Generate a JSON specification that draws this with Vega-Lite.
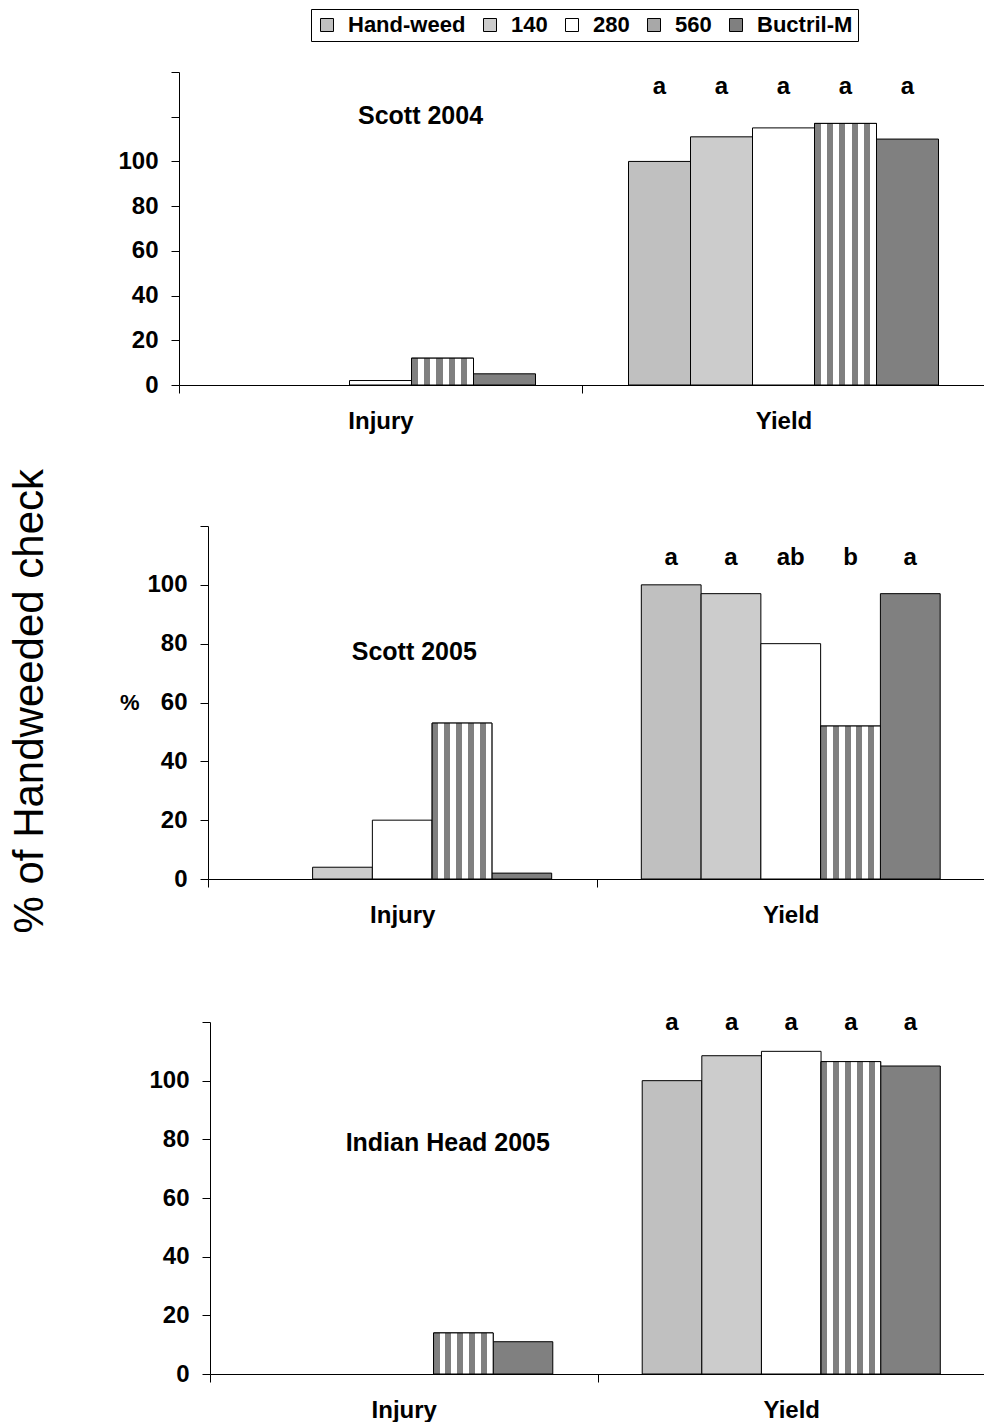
{
  "$schema": "https://vega.github.io/schema/vega-lite/v6.json",
  "background": "white",
  "padding": {"left": 8, "top": 8, "right": 0, "bottom": 0},
  "config": {
    "view": {"stroke": null},
    "font": "Liberation Sans",
    "axis": {"grid": false, "domainColor": "black", "tickColor": "black", "labelColor": "black", "labelFont": "Liberation Sans", "labelFontWeight": "bold", "titleFont": "Liberation Sans", "titleColor": "black", "tickSize": 8, "domainWidth": 1, "tickWidth": 1},
    "legend": {"orient": "none", "legendX": 132, "legendY": -63, "direction": "horizontal", "symbolType": "square", "symbolSize": 169, "symbolStrokeColor": "black", "symbolStrokeWidth": 1, "symbolOpacity": 1, "labelFont": "Liberation Sans", "labelFontWeight": "bold", "labelFontSize": 22, "labelColor": "black", "labelOffset": 10, "columnPadding": 13, "strokeColor": "black", "strokeWidth": 1, "padding": 5, "fillColor": "white"}
  },
  "title": {"text": "% of Handweeded check", "orient": "left", "anchor": "middle", "fontSize": 42, "font": "Liberation Sans", "fontWeight": "normal", "color": "black", "offset": 66, "dx": 14},
  "datasets": {
    "bars": [
      {"site": "Scott 2004", "measure": "Injury", "treatment": "Hand-weed", "value": 0},
      {"site": "Scott 2004", "measure": "Injury", "treatment": "140", "value": 0},
      {"site": "Scott 2004", "measure": "Injury", "treatment": "280", "value": 2},
      {"site": "Scott 2004", "measure": "Injury", "treatment": "560", "value": 12},
      {"site": "Scott 2004", "measure": "Injury", "treatment": "Buctril-M", "value": 5},
      {"site": "Scott 2004", "measure": "Yield", "treatment": "Hand-weed", "value": 100},
      {"site": "Scott 2004", "measure": "Yield", "treatment": "140", "value": 111},
      {"site": "Scott 2004", "measure": "Yield", "treatment": "280", "value": 115},
      {"site": "Scott 2004", "measure": "Yield", "treatment": "560", "value": 117},
      {"site": "Scott 2004", "measure": "Yield", "treatment": "Buctril-M", "value": 110},
      {"site": "Scott 2005", "measure": "Injury", "treatment": "Hand-weed", "value": 0},
      {"site": "Scott 2005", "measure": "Injury", "treatment": "140", "value": 4},
      {"site": "Scott 2005", "measure": "Injury", "treatment": "280", "value": 20},
      {"site": "Scott 2005", "measure": "Injury", "treatment": "560", "value": 53},
      {"site": "Scott 2005", "measure": "Injury", "treatment": "Buctril-M", "value": 2},
      {"site": "Scott 2005", "measure": "Yield", "treatment": "Hand-weed", "value": 100},
      {"site": "Scott 2005", "measure": "Yield", "treatment": "140", "value": 97},
      {"site": "Scott 2005", "measure": "Yield", "treatment": "280", "value": 80},
      {"site": "Scott 2005", "measure": "Yield", "treatment": "560", "value": 52},
      {"site": "Scott 2005", "measure": "Yield", "treatment": "Buctril-M", "value": 97},
      {"site": "Indian Head 2005", "measure": "Injury", "treatment": "Hand-weed", "value": 0},
      {"site": "Indian Head 2005", "measure": "Injury", "treatment": "140", "value": 0},
      {"site": "Indian Head 2005", "measure": "Injury", "treatment": "280", "value": 0},
      {"site": "Indian Head 2005", "measure": "Injury", "treatment": "560", "value": 14},
      {"site": "Indian Head 2005", "measure": "Injury", "treatment": "Buctril-M", "value": 11},
      {"site": "Indian Head 2005", "measure": "Yield", "treatment": "Hand-weed", "value": 100},
      {"site": "Indian Head 2005", "measure": "Yield", "treatment": "140", "value": 108.5},
      {"site": "Indian Head 2005", "measure": "Yield", "treatment": "280", "value": 110},
      {"site": "Indian Head 2005", "measure": "Yield", "treatment": "560", "value": 106.5},
      {"site": "Indian Head 2005", "measure": "Yield", "treatment": "Buctril-M", "value": 105}
    ],
    "letters": [
      {"site": "Scott 2004", "treatment": "Hand-weed", "letter": "a"},
      {"site": "Scott 2004", "treatment": "140", "letter": "a"},
      {"site": "Scott 2004", "treatment": "280", "letter": "a"},
      {"site": "Scott 2004", "treatment": "560", "letter": "a"},
      {"site": "Scott 2004", "treatment": "Buctril-M", "letter": "a"},
      {"site": "Scott 2005", "treatment": "Hand-weed", "letter": "a"},
      {"site": "Scott 2005", "treatment": "140", "letter": "a"},
      {"site": "Scott 2005", "treatment": "280", "letter": "ab"},
      {"site": "Scott 2005", "treatment": "560", "letter": "b"},
      {"site": "Scott 2005", "treatment": "Buctril-M", "letter": "a"},
      {"site": "Indian Head 2005", "treatment": "Hand-weed", "letter": "a"},
      {"site": "Indian Head 2005", "treatment": "140", "letter": "a"},
      {"site": "Indian Head 2005", "treatment": "280", "letter": "a"},
      {"site": "Indian Head 2005", "treatment": "560", "letter": "a"},
      {"site": "Indian Head 2005", "treatment": "Buctril-M", "letter": "a"}
    ]
  },
  "spacing": 92,
  "resolve": {"scale": {"xOffset": "independent"}},
  "vconcat": [
    {
      "width": 806, "height": 313,
      "layer": [
        {
          "data": {"name": "bars"},
          "transform": [{"filter": "datum.site == 'Scott 2004' && datum.value > 0"}],
          "mark": {"type": "bar", "stroke": "black", "strokeWidth": 1},
          "encoding": {
            "x": {"field": "measure", "type": "nominal", "scale": {"domain": ["Injury", "Yield"], "paddingInner": 0, "paddingOuter": 0}, "axis": {"title": null, "labelAngle": 0, "tickBand": "extent", "labelFontSize": 24, "labelPadding": 16}},
            "xOffset": {"field": "treatment", "type": "nominal", "scale": {"domain": ["Hand-weed", "140", "280", "560", "Buctril-M"], "range": [0, 403], "paddingInner": 0, "paddingOuter": 0.75}},
            "y": {"field": "value", "type": "quantitative", "scale": {"domain": [0, 140], "nice": false}, "axis": {"title": null, "values": [0, 20, 40, 60, 80, 100, 120, 140], "labelExpr": "datum.value <= 100 ? datum.label : ''", "labelFontSize": 24, "labelPadding": 13}},
            "fill": {"field": "treatment", "type": "nominal", "scale": {"domain": ["Hand-weed", "140", "280", "560", "Buctril-M"], "range": ["#c0c0c0", "#cccccc", "#ffffff", "#a8a8a8", "#808080"]}, "legend": {"title": null}}
          }
        },
        {
          "data": {"name": "bars"},
          "transform": [{"filter": "datum.site == 'Scott 2004' && datum.treatment == '560'"}],
          "mark": {"type": "bar", "stroke": "black", "strokeWidth": 1, "fill": {"gradient": "linear", "x1": 0, "y1": 0, "x2": 1, "y2": 0, "stops": [{"offset": 0, "color": "#808080"}, {"offset": 0.1, "color": "#808080"}, {"offset": 0.1, "color": "#ffffff"}, {"offset": 0.2, "color": "#ffffff"}, {"offset": 0.2, "color": "#808080"}, {"offset": 0.3, "color": "#808080"}, {"offset": 0.3, "color": "#ffffff"}, {"offset": 0.4, "color": "#ffffff"}, {"offset": 0.4, "color": "#808080"}, {"offset": 0.5, "color": "#808080"}, {"offset": 0.5, "color": "#ffffff"}, {"offset": 0.6, "color": "#ffffff"}, {"offset": 0.6, "color": "#808080"}, {"offset": 0.7, "color": "#808080"}, {"offset": 0.7, "color": "#ffffff"}, {"offset": 0.8, "color": "#ffffff"}, {"offset": 0.8, "color": "#808080"}, {"offset": 0.9, "color": "#808080"}, {"offset": 0.9, "color": "#ffffff"}, {"offset": 1, "color": "#ffffff"}]}},
          "encoding": {
            "x": {"field": "measure", "type": "nominal"},
            "xOffset": {"field": "treatment", "type": "nominal"},
            "y": {"field": "value", "type": "quantitative"}
          }
        },
        {
          "data": {"name": "letters"},
          "transform": [{"filter": "datum.site == 'Scott 2004'"}],
          "mark": {"type": "text", "fontSize": 24, "fontWeight": "bold", "baseline": "middle", "color": "black"},
          "encoding": {
            "x": {"datum": "Yield"},
            "xOffset": {"field": "treatment", "type": "nominal"},
            "y": {"datum": 133.5},
            "text": {"field": "letter"}
          }
        },
        {
          "data": {"values": [{"label": "Scott 2004"}]},
          "mark": {"type": "text", "fontSize": 25, "fontWeight": "bold", "baseline": "middle", "color": "black", "dx": 40},
          "encoding": {
            "x": {"datum": "Injury"},
            "y": {"datum": 120.4},
            "text": {"field": "label"}
          }
        }
      ]
    },
    {
      "spacing": 83,
      "resolve": {"scale": {"xOffset": "independent"}},
      "vconcat": [
        {
          "width": 806, "height": 353,
          "layer": [
            {
              "data": {"name": "bars"},
              "transform": [{"filter": "datum.site == 'Scott 2005' && datum.value > 0"}],
              "mark": {"type": "bar", "stroke": "black", "strokeWidth": 1},
              "encoding": {
                "x": {"field": "measure", "type": "nominal", "scale": {"domain": ["Injury", "Yield"], "range": [29, 806], "paddingInner": 0, "paddingOuter": 0}, "axis": {"title": null, "labelAngle": 0, "tickBand": "extent", "labelFontSize": 24, "labelPadding": 16}},
                "xOffset": {"field": "treatment", "type": "nominal", "scale": {"domain": ["Hand-weed", "140", "280", "560", "Buctril-M"], "range": [0, 388.5], "paddingInner": 0, "paddingOuter": 0.75}},
                "y": {"field": "value", "type": "quantitative", "scale": {"domain": [0, 120], "nice": false}, "axis": {"offset": -29, "title": "%", "titleAngle": 0, "titleAlign": "right", "titleBaseline": "middle", "titleFontSize": 22, "titleFontWeight": "bold", "titlePadding": 8, "values": [0, 20, 40, 60, 80, 100, 120], "labelExpr": "datum.value <= 100 ? datum.label : ''", "labelFontSize": 24, "labelPadding": 13}},
                "fill": {"field": "treatment", "type": "nominal", "scale": {"domain": ["Hand-weed", "140", "280", "560", "Buctril-M"], "range": ["#c0c0c0", "#cccccc", "#ffffff", "#a8a8a8", "#808080"]}, "legend": {"title": null}}
              }
            },
            {
              "data": {"name": "bars"},
              "transform": [{"filter": "datum.site == 'Scott 2005' && datum.treatment == '560'"}],
              "mark": {"type": "bar", "stroke": "black", "strokeWidth": 1, "fill": {"gradient": "linear", "x1": 0, "y1": 0, "x2": 1, "y2": 0, "stops": [{"offset": 0, "color": "#808080"}, {"offset": 0.1, "color": "#808080"}, {"offset": 0.1, "color": "#ffffff"}, {"offset": 0.2, "color": "#ffffff"}, {"offset": 0.2, "color": "#808080"}, {"offset": 0.3, "color": "#808080"}, {"offset": 0.3, "color": "#ffffff"}, {"offset": 0.4, "color": "#ffffff"}, {"offset": 0.4, "color": "#808080"}, {"offset": 0.5, "color": "#808080"}, {"offset": 0.5, "color": "#ffffff"}, {"offset": 0.6, "color": "#ffffff"}, {"offset": 0.6, "color": "#808080"}, {"offset": 0.7, "color": "#808080"}, {"offset": 0.7, "color": "#ffffff"}, {"offset": 0.8, "color": "#ffffff"}, {"offset": 0.8, "color": "#808080"}, {"offset": 0.9, "color": "#808080"}, {"offset": 0.9, "color": "#ffffff"}, {"offset": 1, "color": "#ffffff"}]}},
              "encoding": {
                "x": {"field": "measure", "type": "nominal"},
                "xOffset": {"field": "treatment", "type": "nominal"},
                "y": {"field": "value", "type": "quantitative"}
              }
            },
            {
              "data": {"name": "letters"},
              "transform": [{"filter": "datum.site == 'Scott 2005'"}],
              "mark": {"type": "text", "fontSize": 24, "fontWeight": "bold", "baseline": "middle", "color": "black"},
              "encoding": {
                "x": {"datum": "Yield"},
                "xOffset": {"field": "treatment", "type": "nominal"},
                "y": {"datum": 109},
                "text": {"field": "letter"}
              }
            },
            {
              "data": {"values": [{"label": "Scott 2005"}]},
              "mark": {"type": "text", "fontSize": 25, "fontWeight": "bold", "baseline": "middle", "color": "black", "dx": 12},
              "encoding": {
                "x": {"datum": "Injury"},
                "y": {"datum": 77},
                "text": {"field": "label"}
              }
            }
          ]
        },
        {
          "width": 806, "height": 352,
          "layer": [
            {
              "data": {"name": "bars"},
              "transform": [{"filter": "datum.site == 'Indian Head 2005' && datum.value > 0"}],
              "mark": {"type": "bar", "stroke": "black", "strokeWidth": 1},
              "encoding": {
                "x": {"field": "measure", "type": "nominal", "scale": {"domain": ["Injury", "Yield"], "range": [31, 806], "paddingInner": 0, "paddingOuter": 0}, "axis": {"title": null, "labelAngle": 0, "tickBand": "extent", "labelFontSize": 24, "labelPadding": 16}},
                "xOffset": {"field": "treatment", "type": "nominal", "scale": {"domain": ["Hand-weed", "140", "280", "560", "Buctril-M"], "range": [0, 387.5], "paddingInner": 0, "paddingOuter": 0.75}},
                "y": {"field": "value", "type": "quantitative", "scale": {"domain": [0, 120], "nice": false}, "axis": {"offset": -31, "title": null, "values": [0, 20, 40, 60, 80, 100, 120], "labelExpr": "datum.value <= 100 ? datum.label : ''", "labelFontSize": 24, "labelPadding": 13}},
                "fill": {"field": "treatment", "type": "nominal", "scale": {"domain": ["Hand-weed", "140", "280", "560", "Buctril-M"], "range": ["#c0c0c0", "#cccccc", "#ffffff", "#a8a8a8", "#808080"]}, "legend": {"title": null}}
              }
            },
            {
              "data": {"name": "bars"},
              "transform": [{"filter": "datum.site == 'Indian Head 2005' && datum.treatment == '560'"}],
              "mark": {"type": "bar", "stroke": "black", "strokeWidth": 1, "fill": {"gradient": "linear", "x1": 0, "y1": 0, "x2": 1, "y2": 0, "stops": [{"offset": 0, "color": "#808080"}, {"offset": 0.1, "color": "#808080"}, {"offset": 0.1, "color": "#ffffff"}, {"offset": 0.2, "color": "#ffffff"}, {"offset": 0.2, "color": "#808080"}, {"offset": 0.3, "color": "#808080"}, {"offset": 0.3, "color": "#ffffff"}, {"offset": 0.4, "color": "#ffffff"}, {"offset": 0.4, "color": "#808080"}, {"offset": 0.5, "color": "#808080"}, {"offset": 0.5, "color": "#ffffff"}, {"offset": 0.6, "color": "#ffffff"}, {"offset": 0.6, "color": "#808080"}, {"offset": 0.7, "color": "#808080"}, {"offset": 0.7, "color": "#ffffff"}, {"offset": 0.8, "color": "#ffffff"}, {"offset": 0.8, "color": "#808080"}, {"offset": 0.9, "color": "#808080"}, {"offset": 0.9, "color": "#ffffff"}, {"offset": 1, "color": "#ffffff"}]}},
              "encoding": {
                "x": {"field": "measure", "type": "nominal"},
                "xOffset": {"field": "treatment", "type": "nominal"},
                "y": {"field": "value", "type": "quantitative"}
              }
            },
            {
              "data": {"name": "letters"},
              "transform": [{"filter": "datum.site == 'Indian Head 2005'"}],
              "mark": {"type": "text", "fontSize": 24, "fontWeight": "bold", "baseline": "middle", "color": "black"},
              "encoding": {
                "x": {"datum": "Yield"},
                "xOffset": {"field": "treatment", "type": "nominal"},
                "y": {"datum": 119.8},
                "text": {"field": "letter"}
              }
            },
            {
              "data": {"values": [{"label": "Indian Head 2005"}]},
              "mark": {"type": "text", "fontSize": 25, "fontWeight": "bold", "baseline": "middle", "color": "black", "dx": 44},
              "encoding": {
                "x": {"datum": "Injury"},
                "y": {"datum": 78.8},
                "text": {"field": "label"}
              }
            }
          ]
        }
      ]
    }
  ]
}
